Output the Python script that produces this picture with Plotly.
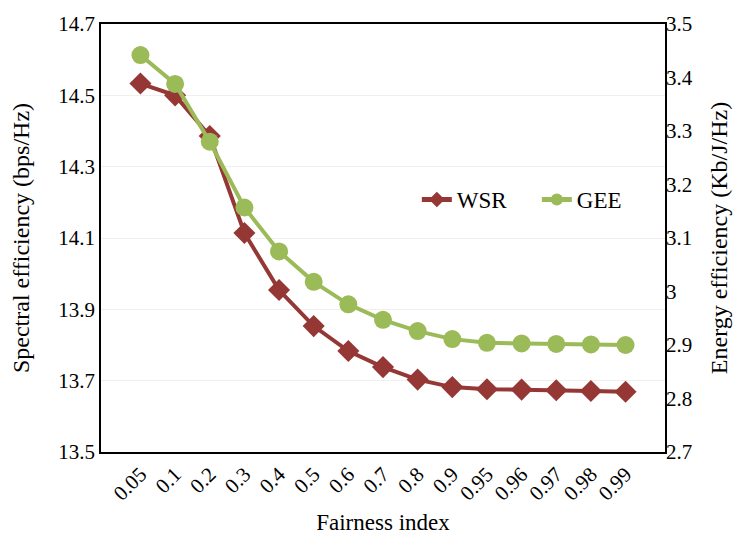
import plotly.graph_objects as go

fairness = ["0.05", "0.1", "0.2", "0.3", "0.4", "0.5", "0.6", "0.7", "0.8",
            "0.9", "0.95", "0.96", "0.97", "0.98", "0.99"]
wsr = [14.533, 14.500, 14.386, 14.114, 13.954, 13.853, 13.783, 13.738, 13.703,
       13.682, 13.676, 13.675, 13.673, 13.671, 13.669]
gee = [3.442, 3.388, 3.280, 3.157, 3.075, 3.018, 2.976, 2.947, 2.926,
       2.911, 2.904, 2.903, 2.902, 2.901, 2.900]

left_ticks = [13.5, 13.7, 13.9, 14.1, 14.3, 14.5, 14.7]
right_ticks = [2.7, 2.8, 2.9, 3.0, 3.1, 3.2, 3.3, 3.4, 3.5]
right_labels = ["2.7", "2.8", "2.9", "3", "3.1", "3.2", "3.3", "3.4", "3.5"]

RED = "#953735"
GREEN = "#9BBB59"
FONT = "Liberation Serif"

fig = go.Figure()
fig.add_trace(go.Scatter(
    x=fairness, y=wsr, name="WSR", mode="lines+markers",
    line=dict(color=RED, width=4),
    marker=dict(symbol="diamond", size=17, color=RED),
    yaxis="y",
))
fig.add_trace(go.Scatter(
    x=fairness, y=gee, name="GEE", mode="lines+markers",
    line=dict(color=GREEN, width=4),
    marker=dict(symbol="circle", size=18, color=GREEN),
    yaxis="y2",
))

fig.update_layout(
    width=744, height=548,
    margin=dict(l=101, r=79, t=17, b=96),
    paper_bgcolor="white", plot_bgcolor="white",
    font=dict(family=FONT, size=21, color="#000000"),
    showlegend=True,
    legend=dict(x=0.56, y=0.59, xanchor="left", yanchor="middle",
                orientation="h", bgcolor="rgba(0,0,0,0)",
                font=dict(family=FONT, size=23),
                entrywidth=75, entrywidthmode="pixels",
                itemsizing="constant", tracegroupgap=0),
    xaxis=dict(
        type="category", tickangle=-45,
        title=dict(text="Fairness index", font=dict(size=23), standoff=10),
        showline=True, linecolor="black", linewidth=1.5, mirror=True,
        showgrid=False, ticks="", tickfont=dict(size=21),
    ),
    yaxis=dict(
        range=[13.5, 14.7], tickvals=left_ticks,
        ticktext=[f"{v:.1f}" for v in left_ticks],
        title=dict(text="Spectral efficiency (bps/Hz)", font=dict(size=24), standoff=22),
        showline=True, linecolor="black", linewidth=1.5, mirror=True,
        showgrid=True, gridcolor="#f1eeee", gridwidth=1,
        zeroline=False, ticks="", tickfont=dict(size=21),
    ),
    yaxis2=dict(
        range=[2.7, 3.5], tickvals=right_ticks, ticktext=right_labels,
        overlaying="y", side="right",
        title=dict(text="Energy efficiency (Kb/J/Hz)", font=dict(size=24), standoff=18),
        showline=False, showgrid=False, zeroline=False, ticks="",
        tickfont=dict(size=21),
    ),
)

fig.write_html("out.html")
